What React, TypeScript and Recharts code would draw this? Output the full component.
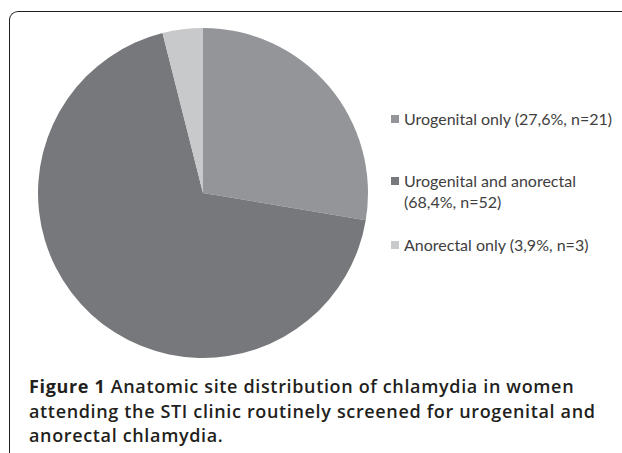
import { PieChart, Pie, Cell, Legend } from 'recharts';

// anatomic site of chlamydia, women screened at both sites
const SITES = ['Urogenital only', 'Urogenital and anorectal', 'Anorectal only'];
const COUNTS = [21, 52, 3];
const SHARES = ['27,6', '68,4', '3,9'];
const COLORS = ['#939598', '#77787b', '#c8c9cb'];

const data = SITES.map((site, i) => ({
  name: site,
  value: COUNTS[i],
  label: `${site} (${SHARES[i]}%, n=${COUNTS[i]})`,
}));

// gap below each legend entry, as in the figure
const ITEM_GAPS = [41, 22, 0];

// legend keeps the slice order (recharts would sort it by name)
function SiteLegend() {
  return (
    <ul
      style={{
        listStyle: 'none',
        margin: 0,
        padding: 0,
        width: 226,
        fontFamily: 'Lato, sans-serif',
        fontSize: 16,
        lineHeight: '21px',
        color: '#404040',
      }}
    >
      {data.map((row, i) => (
        <li key={row.name} style={{ display: 'flex', alignItems: 'flex-start', marginBottom: ITEM_GAPS[i] }}>
          <span style={{ width: 8, height: 8, background: COLORS[i], marginTop: 7, marginRight: 5, flexShrink: 0 }} />
          <span style={{ width: 212 }}>{row.label}</span>
        </li>
      ))}
    </ul>
  );
}

export default function App() {
  return (
    <div style={{ position: 'fixed', left: 0, top: 0, width: 622, height: 453, background: '#fff', overflow: 'hidden' }}>
      <div
        style={{
          position: 'absolute',
          left: 9,
          top: 11,
          width: 640,
          height: 460,
          borderTop: '1.5px solid #231f20',
          borderLeft: '1.5px solid #231f20',
          borderTopLeftRadius: 9,
        }}
      />
      <div style={{ position: 'absolute', left: 0, top: 0 }}>
        <PieChart width={622} height={370} margin={{ top: 0, right: 0, bottom: 0, left: 0 }}>
          <Pie
            data={data}
            dataKey="value"
            nameKey="name"
            cx={203}
            cy={193}
            outerRadius={165}
            startAngle={90}
            endAngle={-270}
            stroke="none"
            isAnimationActive={false}
          >
            {data.map((d, i) => (
              <Cell key={d.name} fill={COLORS[i]} />
            ))}
          </Pie>
          <Legend
            layout="vertical"
            align="right"
            verticalAlign="top"
            content={() => <SiteLegend />}
            wrapperStyle={{ left: 391, top: 108, width: 226 }}
          />
        </PieChart>
      </div>
      <div
        style={{
          position: 'absolute',
          left: 29,
          top: 374,
          width: 593,
          fontFamily: '"Open Sans", sans-serif',
          fontSize: 18,
          lineHeight: '24.5px',
          letterSpacing: 0.65,
          fontWeight: 600,
          color: '#231f20',
          whiteSpace: 'nowrap',
        }}
      >
        <div>
          <span style={{ fontWeight: 700 }}>Figure 1</span> Anatomic site distribution of chlamydia in women
        </div>
        <div>attending the STI clinic routinely screened for urogenital and</div>
        <div>anorectal chlamydia.</div>
      </div>
    </div>
  );
}
